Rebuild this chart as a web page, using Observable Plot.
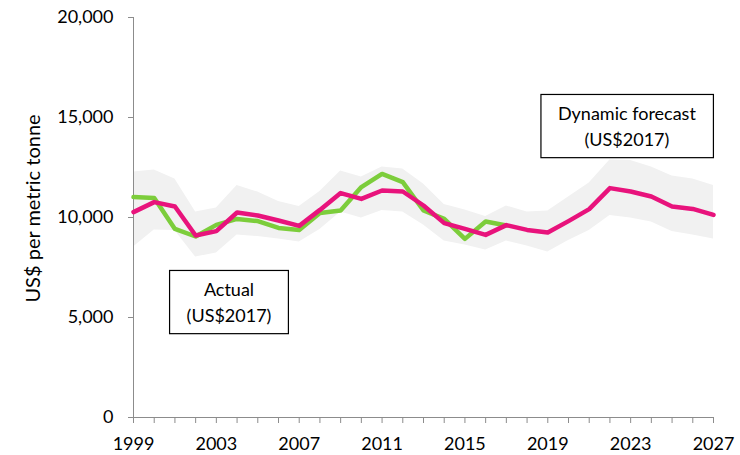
<!DOCTYPE html>
<html><head><meta charset="utf-8">
<script src="https://cdn.jsdelivr.net/npm/d3@7"></script>
<script src="https://cdn.jsdelivr.net/npm/@observablehq/plot@0.6"></script>
<style>
body{margin:0;background:#fff;}
#chart{width:740px;height:455px;}
</style></head>
<body><div id="chart"></div>
<script>
const years = d3.range(1999, 2028);
const actualYears = d3.range(1999, 2018);
const actual = [11020, 10980, 9430, 9050, 9630, 9930, 9820, 9480, 9380, 10220, 10350, 11520, 12180, 11770, 10350, 9930, 8930, 9800, 9600];
const forecast = [10270, 10770, 10550, 9100, 9320, 10250, 10100, 9850, 9580, 10380, 11220, 10930, 11350, 11300, 10600, 9720, 9430, 9130, 9620, 9380, 9250, 9820, 10420, 11470, 11300, 11050, 10550, 10430, 10130];
const upper = [12270, 12380, 11930, 10270, 10480, 11600, 11270, 10800, 10550, 11300, 12320, 12020, 12520, 12430, 11680, 10650, 10380, 10050, 10580, 10270, 10320, 11020, 11730, 12880, 12850, 12520, 12070, 11930, 11600];
const lower = [8520, 9380, 9350, 8020, 8230, 9130, 9050, 8930, 8770, 9400, 10270, 9970, 10350, 10270, 9630, 8820, 8630, 8380, 8820, 8570, 8270, 8850, 9350, 10100, 9980, 9770, 9300, 9130, 8930];
const yTicks = [0, 5000, 10000, 15000, 20000];
const xLabelYears = [1999, 2003, 2007, 2011, 2015, 2019, 2023, 2027];
const annotations = [
  {x: 2003.61, y: 5825, text: "Actual\n(US$2017)"},
  {x: 2022.82, y: 14625, text: "Dynamic forecast\n(US$2017)"}
];

const fc = years.map((y, i) => ({year: y, value: forecast[i], lo: lower[i], hi: upper[i]}));
const ac = actualYears.map((y, i) => ({year: y, value: actual[i]}));
const axisColor = "#8c8c8c";

const chart = Plot.plot({
  width: 740, height: 455,
  marginLeft: 133, marginRight: 27, marginTop: 17, marginBottom: 38,
  style: {fontFamily: "Lato, 'Open Sans', sans-serif", fontSize: "18px", color: "#000", background: "#fff"},
  x: {domain: [1999, 2027]},
  y: {domain: [0, 20000]},
  marks: [
    Plot.areaY(fc, {x: "year", y1: "lo", y2: "hi", fill: "#f1f1f1"}),
    Plot.ruleX([1999], {stroke: axisColor, strokeWidth: 1}),
    Plot.ruleY([0], {stroke: axisColor, strokeWidth: 1}),
    Plot.axisY({ticks: yTicks, tickFormat: d3.format(","), tickSize: 5, tickPadding: 15, stroke: axisColor, fontSize: 18,
      label: "US$ per metric tonne", labelAnchor: "center", labelOffset: 108, labelArrow: false}),
    Plot.axisX({ticks: years, tickFormat: d => xLabelYears.includes(d) ? String(d) : "", tickSize: 6, tickPadding: 14, stroke: axisColor, fontSize: 18, label: null}),
    Plot.line(ac, {x: "year", y: "value", stroke: "#7ccd3b", strokeWidth: 4.5}),
    Plot.line(fc, {x: "year", y: "value", stroke: "#e8137c", strokeWidth: 4.5}),
    Plot.text(annotations, {x: "x", y: "y", text: "text", fontSize: 18, lineHeight: 1.4, fill: "#000", className: "annot"})
  ]
});
document.getElementById("chart").appendChild(chart);

// draw boxes around annotations
chart.querySelectorAll(".annot text").forEach(t => {
  const b = t.getBBox();
  const padX = 17, padY = 8;
  const r = document.createElementNS("http://www.w3.org/2000/svg", "rect");
  r.setAttribute("x", b.x - padX); r.setAttribute("y", b.y - padY);
  r.setAttribute("width", b.width + 2 * padX); r.setAttribute("height", b.height + 2 * padY);
  r.setAttribute("fill", "#fff"); r.setAttribute("stroke", "#000"); r.setAttribute("stroke-width", 1.2);
  const tr = t.getAttribute("transform");
  if (tr) r.setAttribute("transform", tr);
  t.parentNode.insertBefore(r, t);
});
// y-axis label styling
chart.querySelectorAll("text").forEach(t => {
  if (t.textContent.includes("per metric")) { t.style.fontSize = "20px"; t.setAttribute("dx", "9"); }
});
</script></body></html>
